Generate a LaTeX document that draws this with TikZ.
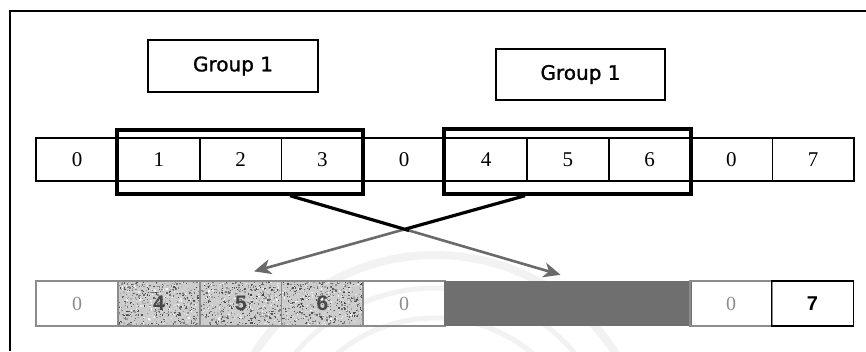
\documentclass[tikz,border=0pt]{standalone}
\usepackage{fontspec}
\setmainfont{Liberation Serif}
\newfontfamily\grpfont[FakeBold=1.3]{DejaVu Sans}
\newfontfamily\digitsans{Liberation Sans}
\usetikzlibrary{calc,arrows.meta}

\definecolor{blockgray}{HTML}{6F6F6F}
\definecolor{arrowgray}{HTML}{6A6A6A}
\definecolor{faintgray}{HTML}{8C8C8C}
\definecolor{sealgray}{HTML}{F2F2F2}

\begin{document}
\begin{tikzpicture}[x=1pt,y=-1pt,
  cell/.style={draw, line width=1.6pt, minimum width=81.8pt, minimum height=43pt,
    inner sep=0pt, font=\fontsize{21}{23}\selectfont},
  lowcell/.style={draw=black!45, line width=1.3pt, minimum width=81.8pt,
    minimum height=45pt, inner sep=0pt},
  zero/.style={lowcell, text=faintgray, font=\fontsize{20}{22}\selectfont},
  grain/.style={lowcell, fill=black!20, text=black!72,
    font=\digitsans\bfseries\fontsize{21}{22}\selectfont,
    path picture={
      \path (path picture bounding box.south west) coordinate (sw);
      \foreach \k in {1,...,650}{
        \pgfmathsetmacro\px{rnd*81}
        \pgfmathsetmacro\py{rnd*44}
        \pgfmathrandominteger{\shade}{0}{75}
        \fill[black!\shade] (sw) ++(\px pt,\py pt) rectangle ++(1.3pt,1.3pt);
      }
    }},
  groupbox/.style={draw, line width=3.4pt, inner sep=0pt},
  labelbox/.style={draw, line width=1.6pt, inner sep=0pt,
    font=\grpfont\fontsize{20}{24}\selectfont},
  darkpart/.style={line width=3.2pt, black},
  lightpart/.style={line width=2.6pt, arrowgray,
    -{Stealth[length=17pt, width=15pt, inset=5pt]}},
]
\useasboundingbox (0,0) rectangle (866,351);
\pgfmathsetseed{4711}

% faint seal in the background
\begin{scope}[sealgray, line width=8pt]
  \draw (435,470) circle (215);
  \draw[line width=5pt] (435,470) circle (182);
  \draw[line width=5pt] (435,470) circle (152);
\end{scope}

% open frame
\draw[line width=2pt] (10,351) -- (10,11) -- (866,11);

% group labels
\node[labelbox, minimum width=170pt, minimum height=52pt] (lab1) at (233,66) {Group 1};
\node[labelbox, minimum width=169pt, minimum height=51pt] (lab2) at (580.5,74.5) {Group 1};

% upper array
\foreach \i/\v in {0/0,1/1,2/2,3/3,4/0,5/4,6/5,7/6,8/0,9/7}
  \node[cell] (t\i) at (77+81.8*\i,159.5) {\v};

% the two groups
\node[groupbox, minimum width=246pt, minimum height=64pt] (g1) at (240,162) {};
\node[groupbox, minimum width=247pt, minimum height=65pt] (g2) at (567.5,161.5) {};

% lower array
\node[zero] (b0) at (77,303.5) {0};
\node[grain] (b1) at (159,303.5) {4};
\node[grain] (b2) at (241,303.5) {5};
\node[grain] (b3) at (322.5,303.5) {6};
\node[zero] (b4) at (404,303.5) {0};
\node[fill=blockgray, minimum width=248pt, minimum height=45pt, inner sep=0pt] (gb) at (567.5,303.5) {};
\node[zero] (b8) at (731,303.5) {0};
\node[lowcell, draw=black, line width=1.6pt, font=\digitsans\bfseries\fontsize{20}{22}\selectfont] (b9) at (812.5,303.5) {7};

% swap arrows: dark above the crossing, grey below it
\coordinate (s1) at ($(g1.south)+(50,0)$);
\coordinate (e1) at ($(gb.north)+(-7,-6)$);
\coordinate (s2) at ($(g2.south)+(-42.5,0)$);
\coordinate (e2) at ($(b2.north)+(13,-9)$);
\draw[lightpart] ($(s1)!0.43!(e1)$) -- (e1);
\draw[lightpart] ($(s2)!0.43!(e2)$) -- (e2);
\draw[darkpart] (s1) -- ($(s1)!0.44!(e1)$);
\draw[darkpart] (s2) -- ($(s2)!0.44!(e2)$);
\end{tikzpicture}
\end{document}
